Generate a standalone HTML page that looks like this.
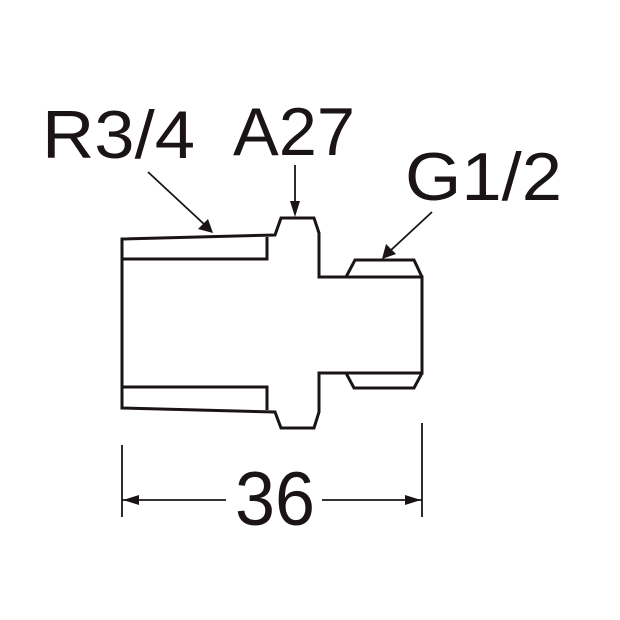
<!DOCTYPE html>
<html><head><style>html,body{margin:0;padding:0;background:#fff;}svg{display:block}</style></head>
<body>
<svg width="620" height="620" viewBox="0 0 620 620" xmlns="http://www.w3.org/2000/svg">
<g fill="none" stroke="#1a1414" stroke-width="3" stroke-linejoin="miter">
<path d="M122,239 L275,235 L281,218 L314,218 L319,233 L319,277 L422,277 L422,373 L319,373 L319,412 L314,428 L281,428 L275,412 L122,408 Z"/>
<path d="M122,259 L267,259 L267,237"/>
<path d="M122,387 L267,387 L267,410"/>
<path d="M346,277 L355,260 L414,260 L422,277"/>
<path d="M346,373 L354,388 L414,388 L422,373"/>
</g>
<g stroke="#1a1414" stroke-width="1.8" fill="none">
<line x1="148" y1="172" x2="205" y2="225"/>
<line x1="295" y1="165" x2="295" y2="205"/>
<line x1="432" y1="212" x2="390" y2="251"/>
<line x1="122" y1="445" x2="122" y2="517"/>
<line x1="422" y1="423" x2="422" y2="517"/>
<line x1="122" y1="500" x2="226" y2="500"/>
<line x1="322" y1="500" x2="422" y2="500"/>
</g>
<g fill="#1a1414">
<polygon points="213,233 198,229 208,219"/>
<polygon points="295,217 290,201 300,201"/>
<polygon points="382,259 386,244 396,254"/>
<polygon points="123,500 139,495 139,505"/>
<polygon points="421,500 405,495 405,505"/>
</g>
<g font-family="Liberation Sans, sans-serif" fill="#1a1414">
<text x="42" y="158" font-size="68" textLength="153" lengthAdjust="spacingAndGlyphs">R3/4</text>
<text x="233" y="155" font-size="68" textLength="122" lengthAdjust="spacingAndGlyphs">A27</text>
<text x="405" y="200" font-size="68" textLength="157" lengthAdjust="spacingAndGlyphs">G1/2</text>
<text x="235" y="525" font-size="76" textLength="80" lengthAdjust="spacingAndGlyphs">36</text>
</g>
</svg>
</body></html>
